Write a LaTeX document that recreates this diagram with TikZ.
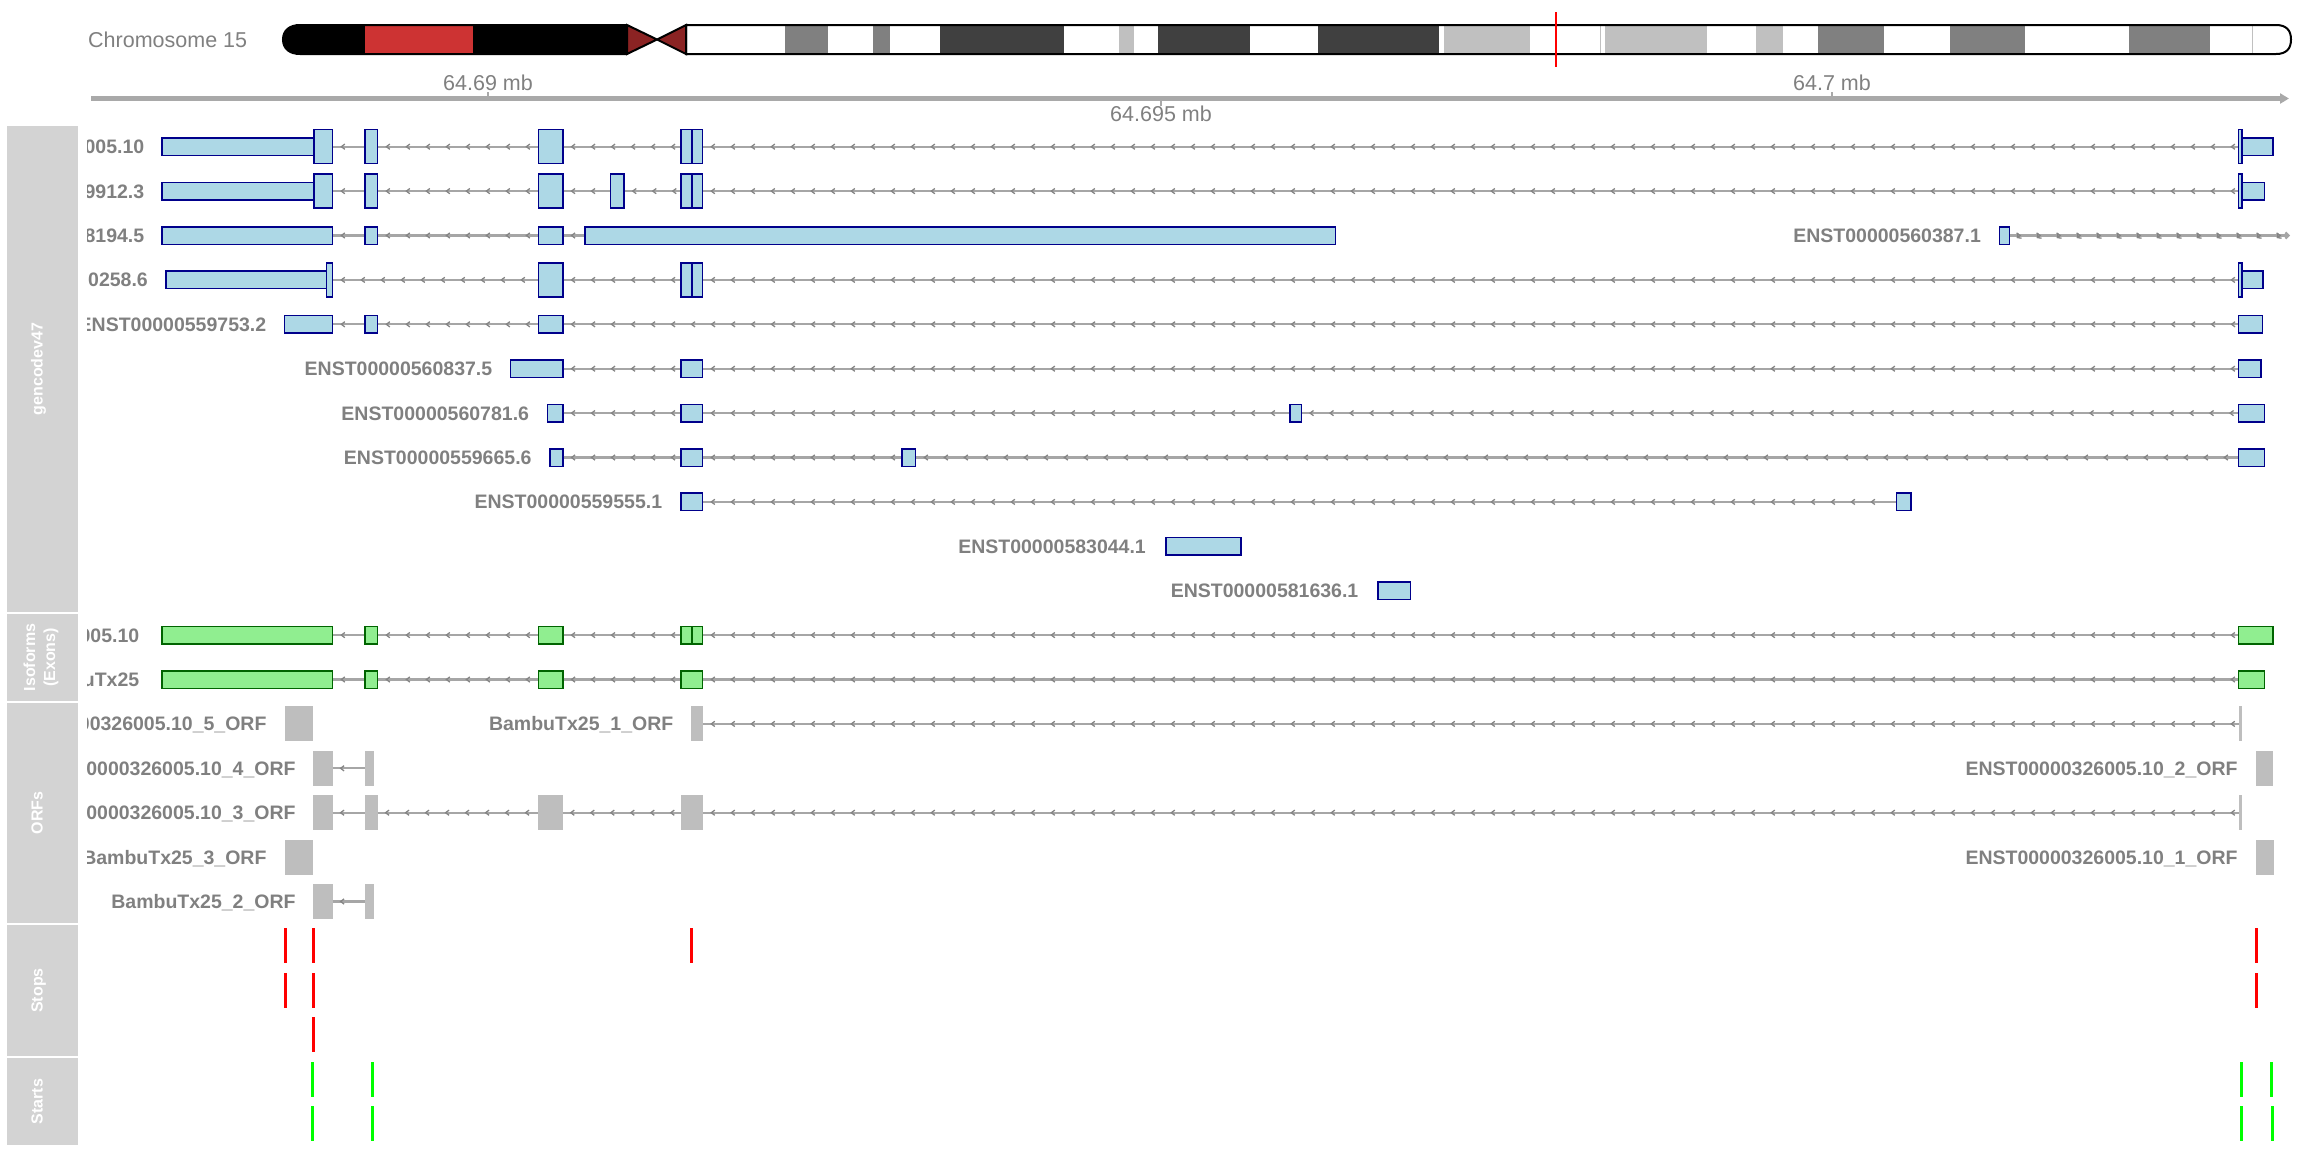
\documentclass[tikz,border=0pt]{standalone}
\usepackage{fontspec}
\setmainfont{Liberation Sans}
\usetikzlibrary{decorations.markings,arrows.meta}

\definecolor{lblue}{HTML}{ADD8E6}
\definecolor{dblue}{HTML}{00008B}
\definecolor{lgreen}{HTML}{90EE90}
\definecolor{dgreen}{HTML}{006400}
\definecolor{orfgrey}{HTML}{BEBEBE}
\definecolor{panelgrey}{HTML}{D3D3D3}
\definecolor{labgrey}{HTML}{808080}
\definecolor{introngrey}{HTML}{A6A6A6}
\definecolor{chevgrey}{HTML}{858585}
\definecolor{axisgrey}{HTML}{A9A9A9}
\definecolor{bandA}{HTML}{404040}
\definecolor{bandB}{HTML}{808080}
\definecolor{bandC}{HTML}{C0C0C0}
\definecolor{pred}{HTML}{CD3333}
\definecolor{cenred}{HTML}{8B2323}
\definecolor{stopred}{HTML}{FF0000}
\definecolor{startgreen}{HTML}{00FF00}

% box from x1 to x2, centred on row y, with given height and style
\newcommand\trbox[6]{\node[#6, minimum width={(#3)-(#2)}, minimum height={#5}] (#1) at ({((#2)+(#3))/2},{#4}) {};}
% thin vertical codon mark centred at x
\newcommand\cmark[4]{\trbox{#1}{(#2)-1.5}{(#2)+1.5}{#3}{35}{#4}}

\tikzset{
  panel/.style={fill=panelgrey, draw=none, inner sep=0, outer sep=0},
  ptitle/.style={text=white, font=\fontsize{16}{20}\selectfont\bfseries, rotate=90, inner sep=0, align=center},
  lab/.style={text=labgrey, font=\fontsize{19.5}{23}\selectfont\bfseries, inner sep=0, anchor=base east},
  axlab/.style={text=labgrey, font=\fontsize{21.5}{25}\selectfont, inner sep=0, anchor=base},
  exb/.style={draw=dblue, fill=lblue, line width=1.5pt, inner sep=0, outer sep=0.75pt},
  exg/.style={draw=dgreen, fill=lgreen, line width=1.5pt, inner sep=0, outer sep=0.75pt},
  orfb/.style={fill=orfgrey, draw=none, inner sep=0, outer sep=0},
  stopm/.style={fill=stopred, draw=none, inner sep=0, outer sep=0},
  startm/.style={fill=startgreen, draw=none, inner sep=0, outer sep=0},
  intr/.style={draw=introngrey, line width=2.2pt, postaction={decorate},
    decoration={markings, mark=between positions 9pt and -4pt step 20pt with
      {\draw[chevgrey, line width=1.3pt] (2.5pt,2.6pt) -- (-1pt,0pt) -- (2.5pt,-2.6pt);}}},
  intrp/.style={draw=introngrey, line width=2.2pt, postaction={decorate},
    decoration={markings, mark=between positions 9pt and -4pt step 20pt with
      {\draw[chevgrey, line width=1.3pt] (-2.5pt,2.6pt) -- (1pt,0pt) -- (-2.5pt,-2.6pt);}}},
  axisline/.style={draw=axisgrey, line width=5pt},
  axtick/.style={draw=axisgrey, line width=2pt},
}

\begin{document}
\begin{tikzpicture}[x=1pt, y=-1pt]
\useasboundingbox (0,0) rectangle (2304,1152);

% ---------------- ideogram ----------------
\node[text=labgrey, font=\fontsize{21.5}{25}\selectfont, inner sep=0, anchor=base west] (chrlab) at (88,47.5) {Chromosome 15};

\begin{scope}
  \clip (627,25) -- (300,25) .. controls (290,25) and (283,30) .. (283,39.5)
        .. controls (283,49) and (290,54) .. (300,54) -- (627,54) -- cycle;
  \fill[black] (280,25) rectangle (628,54);
  \fill[pred] (365,25) rectangle (473,54);
\end{scope}
\draw[black, line width=2pt] (627,25) -- (300,25) .. controls (290,25) and (283,30) .. (283,39.5)
      .. controls (283,49) and (290,54) .. (300,54) -- (627,54);

\begin{scope}
  \clip (686,25) -- (2276,25) .. controls (2286,25) and (2291,30) .. (2291,39.5)
        .. controls (2291,49) and (2286,54) .. (2276,54) -- (686,54) -- cycle;
  \fill[white] (686,25) rectangle (2292,54);
  \fill[bandB] (785,25) rectangle (828,54);
  \fill[bandB] (873,25) rectangle (890,54);
  \fill[bandA] (940,25) rectangle (1064,54);
  \fill[bandC] (1119,25) rectangle (1134,54);
  \fill[bandA] (1158,25) rectangle (1250,54);
  \fill[bandA] (1318,25) rectangle (1439,54);
  \fill[bandC] (1444,25) rectangle (1530,54);
  \fill[bandC] (1605,25) rectangle (1707,54);
  \fill[bandC] (1756,25) rectangle (1783,54);
  \fill[bandB] (1818,25) rectangle (1884,54);
  \fill[bandB] (1950,25) rectangle (2025,54);
  \fill[bandB] (2129,25) rectangle (2210,54);
  \draw[bandC, line width=1pt] (1600,25) -- (1600,54);
  \draw[bandC, line width=1pt] (2252,25) -- (2252,54);
\end{scope}
\draw[black, line width=2pt] (686,25) -- (2276,25) .. controls (2286,25) and (2291,30) .. (2291,39.5)
      .. controls (2291,49) and (2286,54) .. (2276,54) -- (686,54) -- cycle;

% centromere
\draw[black, fill=cenred, line width=2pt, line join=miter]
  (627,25) -- (657,39.5) -- (627,54) -- cycle;
\draw[black, fill=cenred, line width=2pt, line join=miter]
  (686,25) -- (657,39.5) -- (686,54) -- cycle;

% current position marker
\draw[red, line width=2pt] (1556,12) -- (1556,67);

% ---------------- genome axis ----------------
\coordinate (ax0) at (91,98.5);
\coordinate (ax1) at (2289,98.5);
\draw[axisline, -{Triangle[length=9pt,width=10pt]}] (ax0) -- (ax1);
\coordinate (tk1) at (488,98.5);
\coordinate (tk2) at (1161,98.5);
\coordinate (tk3) at (1832,98.5);
\draw[axtick] (tk1) -- ++(0,-7);
\draw[axtick] (tk2) -- ++(0,7.5);
\draw[axtick] (tk3) -- ++(0,-7);
\node[axlab] (tl1) at (488,90.5) {64.69 mb};
\node[axlab] (tl2) at (1161,121) {64.695 mb};
\node[axlab] (tl3) at (1832,90.5) {64.7 mb};

% ---------------- track title panels ----------------
\node[panel, minimum width=71, minimum height=486] (pgen) at (42.5,369) {};
\node[panel, minimum width=71, minimum height=87] (piso) at (42.5,657.5) {};
\node[panel, minimum width=71, minimum height=220] (porf) at (42.5,813) {};
\node[panel, minimum width=71, minimum height=131] (pstop) at (42.5,990.5) {};
\node[panel, minimum width=71, minimum height=87] (pstart) at (42.5,1101.5) {};
\node[ptitle, text height=0.75em, text depth=0.25em] (tgen) at ([xshift=-2.5pt]pgen.center) {gencodev47};
\node[ptitle] (tiso) at ([xshift=-1.5pt]piso.center) {Isoforms\\(Exons)};
\node[ptitle, text height=0.75em, text depth=0.25em] (torf) at ([xshift=-2.5pt]porf.center) {ORFs};
\node[ptitle, text height=0.75em, text depth=0.25em] (tstop) at ([xshift=-2.5pt]pstop.center) {Stops};
\node[ptitle, text height=0.75em, text depth=0.25em] (tstart) at ([xshift=-2.5pt]pstart.center) {Starts};

% ---------------- data tracks ----------------
\begin{scope}
\clip (87,120) rectangle (2304,1152);

% gencode row 1
\trbox{r1a}{162.2}{313.8}{146.7}{17.5}{exb}
\trbox{r1b}{313.8}{332.6}{146.7}{34}{exb}
\trbox{r1c}{364.8}{377.6}{146.7}{34}{exb}
\trbox{r1d}{538.3}{562.8}{146.7}{34}{exb}
\trbox{r1e}{681.1}{691.8}{146.7}{34}{exb}
\trbox{r1f}{691.8}{702.6}{146.7}{34}{exb}
\trbox{r1g}{2238.5}{2242}{146.7}{34}{exb}
\trbox{r1h}{2242}{2273.2}{146.7}{17.5}{exb}
\draw[intr] (r1b.east) -- (r1c.west);
\draw[intr] (r1c.east) -- (r1d.west);
\draw[intr] (r1d.east) -- (r1e.west);
\draw[intr] (r1f.east) -- (r1g.west);
\node[lab] (r1l) at ([xshift=-17pt,yshift=-7pt]r1a.west) {ENST00000326005.10};

% gencode row 2
\trbox{r2a}{162.2}{313.8}{191.1}{17.5}{exb}
\trbox{r2b}{313.8}{332.6}{191.1}{34}{exb}
\trbox{r2c}{364.8}{377.6}{191.1}{34}{exb}
\trbox{r2d}{538.3}{562.8}{191.1}{34}{exb}
\trbox{r2e}{610.7}{624}{191.1}{34}{exb}
\trbox{r2f}{681.1}{691.8}{191.1}{34}{exb}
\trbox{r2g}{691.8}{702.6}{191.1}{34}{exb}
\trbox{r2h}{2238.5}{2242}{191.1}{34}{exb}
\trbox{r2i}{2242}{2264.3}{191.1}{17.5}{exb}
\draw[intr] (r2b.east) -- (r2c.west);
\draw[intr] (r2c.east) -- (r2d.west);
\draw[intr] (r2d.east) -- (r2e.west);
\draw[intr] (r2e.east) -- (r2f.west);
\draw[intr] (r2g.east) -- (r2h.west);
\node[lab] (r2l) at ([xshift=-17pt,yshift=-7pt]r2a.west) {9912.3};

% gencode row 3
\trbox{r3a}{162.2}{332.6}{235.5}{17.5}{exb}
\trbox{r3b}{364.8}{377.6}{235.5}{17.5}{exb}
\trbox{r3c}{538.3}{562.8}{235.5}{17.5}{exb}
\trbox{r3d}{585}{1335.7}{235.5}{17.5}{exb}
\draw[intr] (r3a.east) -- (r3b.west);
\draw[intr] (r3b.east) -- (r3c.west);
\draw[intr] (r3c.east) -- (r3d.west);
\node[lab] (r3l) at ([xshift=-17pt,yshift=-7pt]r3a.west) {8194.5};
\trbox{r3x}{1999.3}{2009.3}{235.5}{17.5}{exb}
\coordinate (r3end) at (2290,235.5);
\draw[intrp, -{Straight Barb[length=3pt,width=6pt]}] (r3x.east) -- (r3end);
\node[lab] (r3xl) at ([xshift=-17.5pt,yshift=-7pt]r3x.west) {ENST00000560387.1};

% gencode row 4
\trbox{r4a}{165.8}{326.5}{279.9}{17.5}{exb}
\trbox{r4b}{326.5}{332.6}{279.9}{34}{exb}
\trbox{r4c}{538.3}{562.8}{279.9}{34}{exb}
\trbox{r4d}{681.1}{691.8}{279.9}{34}{exb}
\trbox{r4e}{691.8}{702.6}{279.9}{34}{exb}
\trbox{r4f}{2238.5}{2242}{279.9}{34}{exb}
\trbox{r4g}{2242}{2263}{279.9}{17.5}{exb}
\draw[intr] (r4b.east) -- (r4c.west);
\draw[intr] (r4c.east) -- (r4d.west);
\draw[intr] (r4e.east) -- (r4f.west);
\node[lab] (r4l) at ([xshift=-17pt,yshift=-7pt]r4a.west) {0258.6};

% gencode row 5
\trbox{r5a}{284.7}{332.6}{324.3}{17.5}{exb}
\trbox{r5b}{364.8}{377.6}{324.3}{17.5}{exb}
\trbox{r5c}{538.3}{562.8}{324.3}{17.5}{exb}
\trbox{r5d}{2238.5}{2262.4}{324.3}{17.5}{exb}
\draw[intr] (r5a.east) -- (r5b.west);
\draw[intr] (r5b.east) -- (r5c.west);
\draw[intr] (r5c.east) -- (r5d.west);
\node[lab] (r5l) at ([xshift=-17.5pt,yshift=-7pt]r5a.west) {ENST00000559753.2};

% gencode row 6
\trbox{r6a}{510.7}{562.8}{368.7}{17.5}{exb}
\trbox{r6b}{681.1}{702.6}{368.7}{17.5}{exb}
\trbox{r6c}{2238.5}{2261}{368.7}{17.5}{exb}
\draw[intr] (r6a.east) -- (r6b.west);
\draw[intr] (r6b.east) -- (r6c.west);
\node[lab] (r6l) at ([xshift=-17.5pt,yshift=-7pt]r6a.west) {ENST00000560837.5};

% gencode row 7
\trbox{r7a}{547.5}{562.8}{413.1}{17.5}{exb}
\trbox{r7b}{681.1}{702.6}{413.1}{17.5}{exb}
\trbox{r7c}{1289.8}{1301.3}{413.1}{17.5}{exb}
\trbox{r7d}{2238.5}{2264.7}{413.1}{17.5}{exb}
\draw[intr] (r7a.east) -- (r7b.west);
\draw[intr] (r7b.east) -- (r7c.west);
\draw[intr] (r7c.east) -- (r7d.west);
\node[lab] (r7l) at ([xshift=-17.5pt,yshift=-7pt]r7a.west) {ENST00000560781.6};

% gencode row 8
\trbox{r8a}{550}{562.8}{457.5}{17.5}{exb}
\trbox{r8b}{681.1}{702.6}{457.5}{17.5}{exb}
\trbox{r8c}{901.8}{915.6}{457.5}{17.5}{exb}
\trbox{r8d}{2238.5}{2264.7}{457.5}{17.5}{exb}
\draw[intr] (r8a.east) -- (r8b.west);
\draw[intr] (r8b.east) -- (r8c.west);
\draw[intr] (r8c.east) -- (r8d.west);
\node[lab] (r8l) at ([xshift=-17.5pt,yshift=-7pt]r8a.west) {ENST00000559665.6};

% gencode row 9
\trbox{r9a}{681.1}{702.6}{501.9}{17.5}{exb}
\trbox{r9b}{1896.6}{1911.2}{501.9}{17.5}{exb}
\draw[intr] (r9a.east) -- (r9b.west);
\node[lab] (r9l) at ([xshift=-18pt,yshift=-7pt]r9a.west) {ENST00000559555.1};

% gencode rows 10 and 11
\trbox{r10a}{1165.8}{1240.8}{546.3}{17.5}{exb}
\node[lab] (r10l) at ([xshift=-19pt,yshift=-7pt]r10a.west) {ENST00000583044.1};
\trbox{r11a}{1377.8}{1410.7}{590.7}{17.5}{exb}
\node[lab] (r11l) at ([xshift=-18.5pt,yshift=-7pt]r11a.west) {ENST00000581636.1};

% isoform row 1
\trbox{i1a}{162.2}{332.6}{635.1}{17.5}{exg}
\trbox{i1b}{364.8}{377.6}{635.1}{17.5}{exg}
\trbox{i1c}{538.3}{562.8}{635.1}{17.5}{exg}
\trbox{i1d}{681.1}{691.8}{635.1}{17.5}{exg}
\trbox{i1e}{691.8}{702.6}{635.1}{17.5}{exg}
\trbox{i1f}{2238.5}{2273.2}{635.1}{17.5}{exg}
\draw[intr] (i1a.east) -- (i1b.west);
\draw[intr] (i1b.east) -- (i1c.west);
\draw[intr] (i1c.east) -- (i1d.west);
\draw[intr] (i1e.east) -- (i1f.west);
\node[lab] (i1l) at ([xshift=-22pt,yshift=-7pt]i1a.west) {ENST00000326005.10};

% isoform row 2
\trbox{i2a}{162.2}{332.6}{679.5}{17.5}{exg}
\trbox{i2b}{364.8}{377.6}{679.5}{17.5}{exg}
\trbox{i2c}{538.3}{562.8}{679.5}{17.5}{exg}
\trbox{i2d}{681.1}{702.6}{679.5}{17.5}{exg}
\trbox{i2e}{2238.5}{2264.7}{679.5}{17.5}{exg}
\draw[intr] (i2a.east) -- (i2b.west);
\draw[intr] (i2b.east) -- (i2c.west);
\draw[intr] (i2c.east) -- (i2d.west);
\draw[intr] (i2d.east) -- (i2e.west);
\node[lab] (i2l) at ([xshift=-22pt,yshift=-7pt]i2a.west) {BambuTx25};

% ORF row 1
\trbox{o1a}{284.7}{313.3}{723.9}{35}{orfb}
\node[lab] (o1al) at ([xshift=-18pt,yshift=-7pt]o1a.west) {ENST00000326005.10\_5\_ORF};
\trbox{o1b}{690.5}{703.3}{723.9}{35}{orfb}
\trbox{o1c}{2238.5}{2242}{723.9}{35}{orfb}
\draw[intr] (o1b.east) -- (o1c.west);
\node[lab] (o1bl) at ([xshift=-17pt,yshift=-7pt]o1b.west) {BambuTx25\_1\_ORF};

% ORF row 2
\trbox{o2a}{313.3}{332.6}{768.3}{35}{orfb}
\trbox{o2b}{364.8}{373.5}{768.3}{35}{orfb}
\draw[intr] (o2a.east) -- (o2b.west);
\node[lab] (o2al) at ([xshift=-17.5pt,yshift=-7pt]o2a.west) {ENST00000326005.10\_4\_ORF};
\trbox{o2c}{2255.8}{2273.2}{768.3}{35}{orfb}
\node[lab] (o2cl) at ([xshift=-18pt,yshift=-7pt]o2c.west) {ENST00000326005.10\_2\_ORF};

% ORF row 3
\trbox{o3a}{313.3}{332.6}{812.7}{35}{orfb}
\trbox{o3b}{364.8}{377.6}{812.7}{35}{orfb}
\trbox{o3c}{538.3}{562.8}{812.7}{35}{orfb}
\trbox{o3d}{681.1}{703.3}{812.7}{35}{orfb}
\trbox{o3e}{2238.5}{2242}{812.7}{35}{orfb}
\draw[intr] (o3a.east) -- (o3b.west);
\draw[intr] (o3b.east) -- (o3c.west);
\draw[intr] (o3c.east) -- (o3d.west);
\draw[intr] (o3d.east) -- (o3e.west);
\node[lab] (o3l) at ([xshift=-17.5pt,yshift=-7pt]o3a.west) {ENST00000326005.10\_3\_ORF};

% ORF row 4
\trbox{o4a}{284.7}{313.3}{857.1}{35}{orfb}
\node[lab] (o4al) at ([xshift=-18pt,yshift=-7pt]o4a.west) {BambuTx25\_3\_ORF};
\trbox{o4b}{2255.8}{2273.6}{857.1}{35}{orfb}
\node[lab] (o4bl) at ([xshift=-18pt,yshift=-7pt]o4b.west) {ENST00000326005.10\_1\_ORF};

% ORF row 5
\trbox{o5a}{313.3}{332.6}{901.5}{35}{orfb}
\trbox{o5b}{364.8}{373.5}{901.5}{35}{orfb}
\draw[intr] (o5a.east) -- (o5b.west);
\node[lab] (o5l) at ([xshift=-17.5pt,yshift=-7pt]o5a.west) {BambuTx25\_2\_ORF};

% stop codons
\cmark{s1a}{285.7}{945.9}{stopm}
\cmark{s1b}{313.8}{945.9}{stopm}
\cmark{s1c}{691.3}{945.9}{stopm}
\cmark{s1d}{2256.6}{945.9}{stopm}
\cmark{s2a}{285.7}{990.3}{stopm}
\cmark{s2b}{313.8}{990.3}{stopm}
\cmark{s2c}{2256.6}{990.3}{stopm}
\cmark{s3a}{313.8}{1034.7}{stopm}

% start codons
\cmark{t1a}{312.2}{1079.5}{startm}
\cmark{t1b}{372.4}{1079.5}{startm}
\cmark{t1c}{2241}{1079.5}{startm}
\cmark{t1d}{2271.6}{1079.5}{startm}
\cmark{t2a}{312.2}{1123.5}{startm}
\cmark{t2b}{372.4}{1123.5}{startm}
\cmark{t2c}{2241}{1123.5}{startm}
\cmark{t2d}{2272.3}{1123.5}{startm}
\end{scope}

\end{tikzpicture}
\end{document}
